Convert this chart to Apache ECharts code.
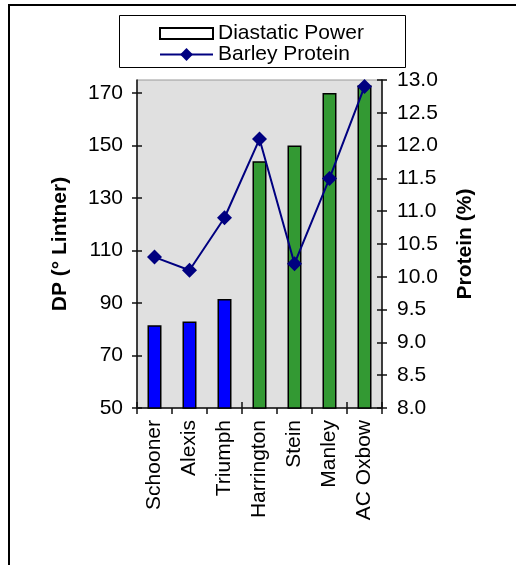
<!DOCTYPE html>
<html>
<head>
<meta charset="utf-8">
<script src="https://cdn.jsdelivr.net/npm/echarts@6/dist/echarts.min.js"></script>
<style>
  html, body { margin: 0; padding: 0; background: #fff; }
  #chart { width: 516px; height: 565px; }
</style>
</head>
<body>
<div id="chart"></div>
<script>
// Barley varieties, diastatic power (bars) and protein content (line)
const categories = ['Schooner', 'Alexis', 'Triumph', 'Harrington', 'Stein', 'Manley', 'AC Oxbow'];
const diastaticPower = [81.5, 83, 91.5, 144, 150, 170, 173];
const barleyProtein = [10.3, 10.1, 10.9, 12.1, 10.2, 11.5, 12.9];
const barColors = ['#0000FF', '#0000FF', '#0000FF', '#339933', '#339933', '#339933', '#339933'];
const dpTickValues = [50, 70, 90, 110, 130, 150, 170];

const FONT = '"Liberation Sans", Arial, sans-serif';
const FS = 21;
const chart = echarts.init(document.getElementById('chart'), null, { renderer: 'canvas' });

const axisLineStyle = { color: '#111', width: 1.5 };

chart.setOption({
  animation: false,
  textStyle: { fontFamily: FONT, color: '#000' },
  grid: {
    left: 137, right: 134, top: 80, bottom: 157,
    show: true, backgroundColor: '#E0E0E0', borderColor: '#999', borderWidth: 1
  },
  legend: {
    orient: 'vertical',
    left: 159, top: 23,
    itemWidth: 53, itemHeight: 16, itemGap: 0,
    padding: 0,
    textStyle: { fontSize: FS, lineHeight: 19, color: '#000', fontFamily: FONT },
    data: [
      { name: 'Diastatic Power', icon: 'path://M0,0H53V11H0Z' },
      { name: 'Barley Protein' }
    ]
  },
  graphic: [
    // outer frame
    { type: 'rect', shape: { x: 9, y: 5, width: 700, height: 700 },
      style: { fill: 'none', stroke: '#000', lineWidth: 2 }, silent: true },
    // legend box
    { type: 'rect', shape: { x: 119.5, y: 15.5, width: 286, height: 52 },
      style: { fill: 'none', stroke: '#000', lineWidth: 1 }, silent: true, z: -1 }
  ],
  xAxis: [
    {
      type: 'category', data: categories, position: 'bottom',
      axisLine: { show: true, lineStyle: axisLineStyle },
      axisTick: { show: true, length: 6, inside: false, lineStyle: axisLineStyle },
      axisLabel: { rotate: 90, fontSize: FS, margin: 12, color: '#000', fontFamily: FONT, interval: 0 },
      splitLine: { show: false }
    },
    {
      type: 'category', data: categories, position: 'bottom',
      axisLine: { show: false },
      axisTick: { show: true, length: 6, inside: true, lineStyle: axisLineStyle },
      axisLabel: { show: false },
      splitLine: { show: false }
    }
  ],
  yAxis: [
    {
      type: 'value', position: 'left', min: 50, max: 175,
      name: 'DP (° Lintner)', nameLocation: 'middle', nameGap: 66,
      nameTextStyle: { fontSize: FS, fontWeight: 'bold', color: '#000', fontFamily: FONT },
      axisLine: { show: true, lineStyle: axisLineStyle },
      axisTick: { show: true, length: 5, inside: false, customValues: dpTickValues, lineStyle: axisLineStyle },
      axisLabel: { fontSize: FS, margin: 14, color: '#000', fontFamily: FONT, customValues: dpTickValues },
      splitLine: { show: false }
    },
    {
      type: 'value', position: 'right', min: 8, max: 13, interval: 0.5,
      name: 'Protein (%)', nameLocation: 'middle', nameGap: 73,
      nameTextStyle: { fontSize: FS, fontWeight: 'bold', color: '#000', fontFamily: FONT },
      axisLine: { show: true, lineStyle: axisLineStyle },
      axisTick: { show: true, length: 5, inside: false, lineStyle: axisLineStyle },
      axisLabel: { fontSize: FS, margin: 15, color: '#000', fontFamily: FONT,
        formatter: v => v.toFixed(1) },
      splitLine: { show: false }
    },
    {
      type: 'value', position: 'left', min: 50, max: 175,
      axisLine: { show: false },
      axisTick: { show: true, length: 5, inside: true, customValues: dpTickValues, lineStyle: axisLineStyle },
      axisLabel: { show: false },
      splitLine: { show: false }
    },
    {
      type: 'value', position: 'right', min: 8, max: 13, interval: 0.5,
      axisLine: { show: false },
      axisTick: { show: true, length: 5, inside: true, lineStyle: axisLineStyle },
      axisLabel: { show: false },
      splitLine: { show: false }
    }
  ],
  series: [
    {
      name: 'Diastatic Power', type: 'bar', xAxisIndex: 0, yAxisIndex: 0,
      barWidth: 14,
      itemStyle: { color: '#FFFFFF', borderColor: '#000', borderWidth: 1.5 },
      data: diastaticPower.map((v, i) => ({ value: v, itemStyle: { color: barColors[i] } })),
      z: 2
    },
    {
      name: 'Barley Protein', type: 'line', xAxisIndex: 0, yAxisIndex: 1,
      symbol: 'diamond', symbolSize: 15,
      lineStyle: { color: '#000080', width: 2 },
      itemStyle: { color: '#000080' },
      data: barleyProtein,
      z: 3
    }
  ]
});
</script>
</body>
</html>
